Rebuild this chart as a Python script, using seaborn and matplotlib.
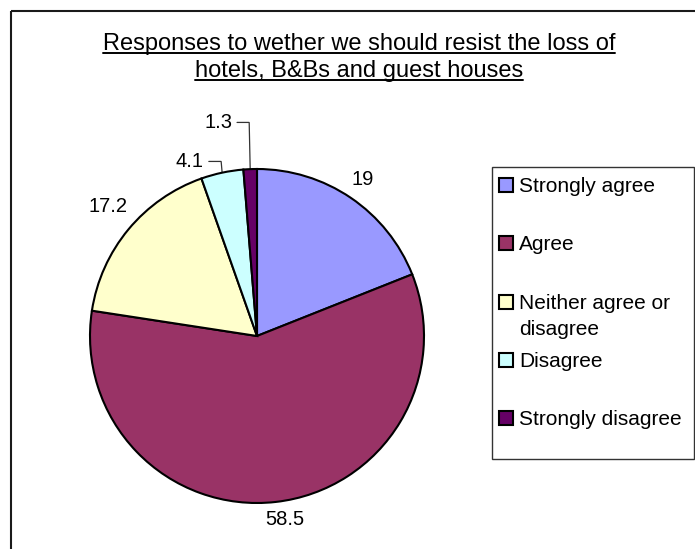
import numpy as np
import matplotlib
matplotlib.use("Agg")
import matplotlib.pyplot as plt
import matplotlib.patches as mpatches
import seaborn as sns

# data
categories = ["Strongly agree", "Agree", "Neither agree or\ndisagree",
              "Disagree", "Strongly disagree"]
percentages = [19, 58.5, 17.2, 4.1, 1.3]
value_labels = ["19", "58.5", "17.2", "4.1", "1.3"]
title_lines = ["Responses to wether we should resist the loss of",
               "hotels, B&Bs and guest houses"]
slice_colors = ["#9999FF", "#993366", "#FFFFCC", "#CCFFFF", "#660066"]

# label layout: angle shift from wedge middle (deg), distance (x radius), leader line?
label_shift = [0, 2, -1.4, 9, 8]
label_radius = [1.13, 1.11, 1.18, 1.12, 1.30]
label_leader = [False, False, False, True, True]

sns.set_style("white")
plt.rcParams["font.family"] = ["Liberation Sans", "DejaVu Sans"]
palette = sns.color_palette(slice_colors)

W, H = 695, 549
fig = plt.figure(figsize=(W / 100, H / 100), dpi=100)

# background axes in pixel units, y pointing down
bg = fig.add_axes([0, 0, 1, 1])
bg.set_xlim(0, W)
bg.set_ylim(H, 0)
bg.axis("off")
bg.add_patch(mpatches.Rectangle((11, 11), W + 20, H + 20, fill=False,
                                edgecolor="#1a1a1a", linewidth=1.5))

# pie axes, scaled so that the unit circle sits at (cx, cy) with radius R px
cx, cy, R = 257, 336, 167
ax = fig.add_axes([0, 0, 1, 1])
wedges, _ = ax.pie(percentages, colors=palette, startangle=90,
                   counterclock=False,
                   wedgeprops=dict(edgecolor="black", linewidth=1.5))
ax.set_xlim(-cx / R, (W - cx) / R)
ax.set_ylim(-(H - cy) / R, cy / R)
ax.axis("off")

fig.canvas.draw()
renderer = fig.canvas.get_renderer()
inv = bg.transData.inverted()

# value labels
for w, txt, sh, rr, lead in zip(wedges, value_labels, label_shift,
                                label_radius, label_leader):
    mid = np.deg2rad((w.theta1 + w.theta2) / 2)
    ang = mid + np.deg2rad(sh)
    lx = cx + R * rr * np.cos(ang)
    ly = cy - R * rr * np.sin(ang)
    t = bg.text(lx, ly, txt, ha="center", va="center", fontsize=14.5,
                color="black")
    if lead:
        bb = t.get_window_extent(renderer)
        right = inv.transform((bb.x1, bb.y0))[0]
        ex = cx + R * np.cos(mid)
        ey = cy - R * np.sin(mid)
        bg.plot([right + 5, ex - 1, ex], [ly, ly, ey], color="#333333",
                linewidth=0.9, solid_joinstyle="miter")

# legend
leg_left, leg_top, leg_w, leg_h = 492, 167, 202, 292
bg.add_patch(mpatches.Rectangle((leg_left, leg_top), leg_w, leg_h, fill=False,
                                edgecolor="#333333", linewidth=1.0))
for i, (name, col) in enumerate(zip(categories, palette)):
    yc = leg_top + 18 + i * 58.3
    bg.add_patch(mpatches.Rectangle((leg_left + 7, yc - 7), 14, 14,
                                    facecolor=col, edgecolor="black",
                                    linewidth=1.5))
    for j, line in enumerate(name.split("\n")):
        bg.text(leg_left + 27, yc + 7 + j * 26, line, ha="left",
                va="baseline", fontsize=15, color="black")

# underlined title
for k, line in enumerate(title_lines):
    base = 50 + k * 26.5
    t = bg.text(359, base, line, ha="center", va="baseline", fontsize=17,
                color="black")
    bb = t.get_window_extent(renderer)
    x0 = inv.transform((bb.x0, bb.y0))[0]
    x1 = inv.transform((bb.x1, bb.y0))[0]
    bg.plot([x0, x1], [base + 3, base + 3], color="black", linewidth=1.4)

fig.savefig("out.png", dpi=100)
